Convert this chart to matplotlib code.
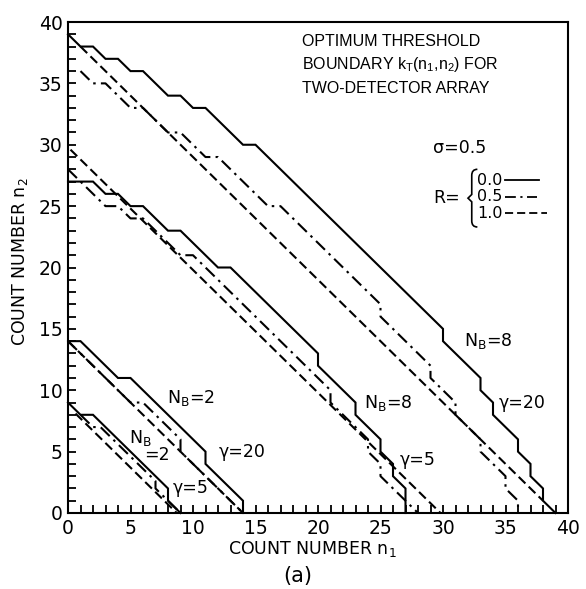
import matplotlib
import matplotlib.pyplot as plt
from matplotlib.lines import Line2D
from matplotlib.path import Path
from matplotlib.patches import PathPatch

matplotlib.use("Agg")

# boundary vertices (n1, n2)
# N_B = 8, gamma = 20
solid_8_20_n1 = [0, 1, 2, 3, 4, 5, 6, 8, 9, 10, 11, 14, 15, 30, 30, 33, 33, 34, 34, 36, 36, 37, 37, 38, 38, 39]
solid_8_20_n2 = [39, 38, 38, 37, 37, 36, 36, 34, 34, 33, 33, 30, 30, 15, 14, 11, 10, 9, 8, 6, 5, 4, 3, 2, 1, 0]
dashdot_8_20_n1 = [1, 2, 3, 5, 6, 8, 9, 11, 12, 16, 17, 25, 25, 29, 29, 31, 31, 33, 33, 35, 35, 36, 36]
dashdot_8_20_n2 = [36, 35, 35, 33, 33, 31, 31, 29, 29, 25, 25, 17, 16, 12, 11, 9, 8, 6, 5, 3, 2, 1, 0]
dashed_8_20_n1 = [1, 38]
dashed_8_20_n2 = [38, 1]

# N_B = 8, gamma = 5
solid_8_5_n1 = [0, 2, 3, 4, 5, 6, 8, 9, 12, 13, 20, 20, 23, 23, 25, 25, 26, 26, 27, 27]
solid_8_5_n2 = [27, 27, 26, 26, 25, 25, 23, 23, 20, 20, 13, 12, 9, 8, 6, 5, 4, 3, 2, 0]
dashdot_8_5_n1 = [0, 3, 4, 5, 6, 9, 10, 21, 21, 24, 24, 25, 25, 28]
dashdot_8_5_n2 = [28, 25, 25, 24, 24, 21, 21, 10, 9, 6, 5, 4, 3, 0]
dashed_8_5_n1 = [0.2, 29.8]
dashed_8_5_n2 = [29.6, 0]

# N_B = 2, gamma = 20
solid_2_20_n1 = [0, 1, 4, 5, 11, 11, 14, 14]
solid_2_20_n2 = [14, 14, 11, 11, 5, 4, 1, 0]
dashdot_2_20_n1 = [0, 5, 6, 9, 9, 14]
dashdot_2_20_n2 = [14, 9, 9, 6, 5, 0]
dashed_2_20_n1 = [0, 14]
dashed_2_20_n2 = [14, 0]

# N_B = 2, gamma = 5
solid_2_5_n1 = [0, 1, 2, 8, 8, 9]
solid_2_5_n2 = [9, 8, 8, 2, 1, 0]
dashdot_2_5_n1 = [1, 2, 2.6, 7, 7, 9]
dashdot_2_5_n2 = [8, 7, 7, 2.6, 2, 0]
dashed_2_5_n1 = [0.6, 8.7]
dashed_2_5_n2 = [8.1, 0]

r_values = ["0.0", "0.5", "1.0"]

TITLE_FONT = ["Liberation Sans", "DejaVu Sans"]
TEXT_FONT = ["DejaVu Sans"]
SOLID = "-"
DASHDOT = (0, (6, 2.5, 1.2, 2.5))
DASHED = (0, (4.5, 2.2))
LW = 1.5

fig = plt.figure(figsize=(5.86, 5.89), dpi=100)
ax = fig.add_axes([68 / 586, 1 - 513 / 589, 500 / 586, 491 / 589])

curves = [
    (solid_8_20_n1, solid_8_20_n2, SOLID),
    (dashdot_8_20_n1, dashdot_8_20_n2, DASHDOT),
    (dashed_8_20_n1, dashed_8_20_n2, DASHED),
    (solid_8_5_n1, solid_8_5_n2, SOLID),
    (dashdot_8_5_n1, dashdot_8_5_n2, DASHDOT),
    (dashed_8_5_n1, dashed_8_5_n2, DASHED),
    (solid_2_20_n1, solid_2_20_n2, SOLID),
    (dashdot_2_20_n1, dashdot_2_20_n2, DASHDOT),
    (dashed_2_20_n1, dashed_2_20_n2, DASHED),
    (solid_2_5_n1, solid_2_5_n2, SOLID),
    (dashdot_2_5_n1, dashdot_2_5_n2, DASHDOT),
    (dashed_2_5_n1, dashed_2_5_n2, DASHED),
]
for xs, ys, ls in curves:
    ax.plot(xs, ys, color="black", lw=LW, linestyle=ls, clip_on=False,
            solid_joinstyle="miter")

ax.set_xlim(0, 40)
ax.set_ylim(0, 40)
ax.set_xticks(range(0, 41, 5))
ax.set_yticks(range(0, 41, 5))
ax.set_xticks(range(0, 41), minor=True)
ax.set_yticks(range(0, 41), minor=True)
ax.tick_params(which="both", direction="in", length=6, width=1.3,
               top=False, right=False)
ax.tick_params(which="major", labelsize=13.5, pad=4)
for sp in ax.spines.values():
    sp.set_linewidth(1.5)

# title block
title_lines = ["OPTIMUM THRESHOLD",
               r"BOUNDARY k$_\mathregular{T}$(n$_\mathregular{1}$,n$_\mathregular{2}$) FOR",
               "TWO-DETECTOR ARRAY"]
for i, line in enumerate(title_lines):
    ax.text(18.7, 38.4 - 1.9 * i, line, fontsize=11.5, family=TITLE_FONT,
            ha="left", va="center")

# sigma / R key
ax.text(29.2, 29.7, "σ=0.5", fontsize=12.5, family=TEXT_FONT, ha="left", va="center")
ax.text(29.2, 25.7, "R=", fontsize=12.5, family=TEXT_FONT, ha="left", va="center")
ls_list = [SOLID, DASHDOT, DASHED]
line_ends = [37.7, 37.5, 38.3]
for i, (rv, ls, xe) in enumerate(zip(r_values, ls_list, line_ends)):
    yy = 27.1 - 1.35 * i
    ax.text(32.7, yy, rv, fontsize=11.5, family=TEXT_FONT, ha="left", va="center")
    ax.add_line(Line2D([34.95, xe], [yy, yy], color="black", lw=1.3, linestyle=ls))

# brace
bx, by0, by1 = 32.3, 28.0, 23.3
bm = (by0 + by1) / 2
verts = [(bx + 0.45, by0), (bx, by0), (bx, by0 - 0.5),
         (bx, bm + 0.3), (bx - 0.3, bm),
         (bx, bm - 0.3), (bx, by1 + 0.5), (bx, by1), (bx + 0.45, by1)]
codes = [Path.MOVETO, Path.CURVE3, Path.CURVE3, Path.LINETO, Path.LINETO,
         Path.LINETO, Path.LINETO, Path.CURVE3, Path.CURVE3]
ax.add_patch(PathPatch(Path(verts, codes), fill=False, lw=1.2, color="black"))

# curve labels
txt = dict(fontsize=12.5, family=TEXT_FONT, ha="center", va="center")
ax.text(33.6, 14.0, r"N$_\mathregular{B}$=8", **txt)
ax.text(36.3, 9.0, "γ=20", **txt)
ax.text(25.6, 9.0, r"N$_\mathregular{B}$=8", **txt)
ax.text(28.0, 4.3, "γ=5", **txt)
ax.text(9.8, 9.4, r"N$_\mathregular{B}$=2", **txt)
ax.text(13.9, 5.0, "γ=20", **txt)
ax.text(5.8, 6.1, r"N$_\mathregular{B}$", **txt)
ax.text(7.1, 4.7, "=2", **txt)
ax.text(9.8, 2.0, "γ=5", **txt)

fig.text(312 / 586, 1 - 549 / 589, r"COUNT NUMBER n$_\mathregular{1}$", fontsize=12.5,
         family=TEXT_FONT, ha="center", va="center")
fig.text(20 / 586, 1 - 262 / 589, r"COUNT NUMBER n$_\mathregular{2}$", fontsize=12.5,
         family=TEXT_FONT, ha="center", va="center", rotation=90)
fig.text(298 / 586, 1 - 576 / 589, "(a)", fontsize=15, family=TEXT_FONT,
         ha="center", va="center")

fig.savefig("out.png", dpi=100)
